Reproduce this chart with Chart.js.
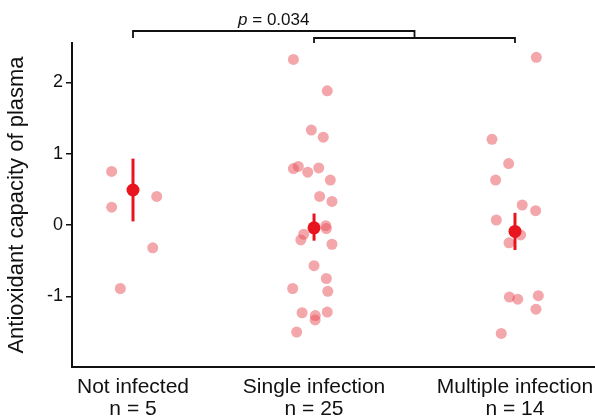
<!DOCTYPE html>
<html>
<head>
<meta charset="utf-8">
<script src="https://cdn.jsdelivr.net/npm/chart.js@4/dist/chart.umd.min.js"></script>
<style>
body { margin: 0; background: #fff; }
</style>
</head>
<body>
<canvas id="myChart" width="595" height="418"></canvas>
<script>
var groups = ["Not infected", "Single infection", "Multiple infection"];
var groupN = ["n = 5", "n = 25", "n = 14"];
var groupPos = [1, 2, 3.11];
var yTicks = [-1, 0, 1, 2];

// individual birds, value + horizontal jitter (x units)
var notInfVal = [0.75, 0.25, 0.40, -0.32, -0.89];
var notInfJit = [-0.118, -0.118, 0.131, 0.109, -0.070];

var singleVal = [2.32, 1.88, 1.33, 1.23, 0.79, 0.82, 0.74, 0.80, 0.63, 0.40, 0.33, -0.01, -0.05,
                 -0.13, -0.21, -0.27, -0.57, -0.75, -0.93, -0.89, -1.23, -1.27, -1.33, -1.22, -1.50];
var singleJit = [-0.114, 0.073, -0.015, 0.051, -0.114, -0.087, -0.035, 0.026, 0.090, 0.031, 0.099, 0.065, 0.068,
                 -0.057, -0.073, 0.099, 0, 0.068, 0.076, -0.118, -0.066, 0.007, 0.006, 0.073, -0.096];

var multiVal = [2.35, 1.20, 0.86, 0.63, 0.28, 0.20, 0.07, -0.14, -0.25, -1.01, -1.04, -0.99, -1.18, -1.52];
var multiJit = [0.118, -0.127, -0.035, -0.107, 0.040, 0.114, -0.103, 0.031, -0.033, -0.031, 0.015, 0.129, 0.116, -0.076];

var means = [0.49, -0.04, -0.09];
var errLow = [0.05, -0.22, -0.35];
var errHigh = [0.93, 0.16, 0.17];

var pLabel = "p";
var pValue = " = 0.034";

var fontFam = "'Liberation Sans', Arial, Helvetica, sans-serif";

function pts(vals, jit, g) {
    var out = [];
    for (var i = 0; i < vals.length; i++) {
        out.push({x: groupPos[g] + jit[i], y: vals[i]});
    }
    return out;
}

var dotColor = "rgba(234, 80, 88, 0.5)";
var red = "#e8141e";

var datasets = [];
var allPts = pts(notInfVal, notInfJit, 0).concat(pts(singleVal, singleJit, 1), pts(multiVal, multiJit, 2));
datasets.push({
    type: "scatter",
    data: allPts,
    backgroundColor: dotColor,
    borderWidth: 0,
    pointRadius: 5.5,
    order: 3
});
for (var g = 0; g < 3; g++) {
    datasets.push({
        type: "line",
        data: [{x: groupPos[g], y: errLow[g]}, {x: groupPos[g], y: errHigh[g]}],
        borderColor: red,
        borderWidth: 3,
        pointRadius: 0,
        fill: false,
        order: 2
    });
}
datasets.push({
    type: "scatter",
    data: groupPos.map(function (p, i) { return {x: p, y: means[i]}; }),
    backgroundColor: red,
    borderWidth: 0,
    pointRadius: 6.5,
    order: 1
});

var bracketPlugin = {
    id: "brackets",
    afterDraw: function (chart) {
        var ctx = chart.ctx;
        var xs = chart.scales.x;
        var top = chart.chartArea.top;
        var x0 = xs.getPixelForValue(groupPos[0]);
        var x1 = xs.getPixelForValue(groupPos[1]);
        var x2 = xs.getPixelForValue(groupPos[2]);
        var mid = (x1 + x2) / 2;
        ctx.save();
        ctx.strokeStyle = "#111";
        ctx.lineWidth = 1.8;
        ctx.beginPath();
        ctx.moveTo(x0, top - 5);
        ctx.lineTo(x0, top - 12);
        ctx.lineTo(mid, top - 12);
        ctx.lineTo(mid, top - 5);
        ctx.moveTo(x1, top);
        ctx.lineTo(x1, top - 5);
        ctx.lineTo(x2, top - 5);
        ctx.lineTo(x2, top);
        ctx.stroke();

        var cx = (x0 + mid) / 2;
        ctx.fillStyle = "#111";
        ctx.textBaseline = "alphabetic";
        ctx.font = "italic 17px " + fontFam;
        var w1 = ctx.measureText(pLabel).width;
        ctx.font = "17px " + fontFam;
        var w2 = ctx.measureText(pValue).width;
        var sx = cx - (w1 + w2) / 2;
        ctx.font = "italic 17px " + fontFam;
        ctx.fillText(pLabel, sx, top - 18);
        ctx.font = "17px " + fontFam;
        ctx.fillText(pValue, sx + w1, top - 18);
        ctx.restore();
    }
};

new Chart("myChart", {
    data: {datasets: datasets},
    options: {
        responsive: false,
        animation: false,
        layout: {autoPadding: false, padding: {top: 43, right: 0, left: 0, bottom: 0}},
        plugins: {legend: {display: false}, tooltip: {enabled: false}},
        scales: {
            x: {
                type: "linear",
                min: 0.663,
                max: 3.552,
                grid: {display: false},
                border: {display: true, color: "#111", width: 2},
                afterBuildTicks: function (scale) {
                    scale.ticks = groupPos.map(function (p) { return {value: p}; });
                },
                afterFit: function (scale) {
                    scale.height = 51;
                    scale.paddingLeft = 0;
                    scale.paddingRight = 0;
                },
                ticks: {
                    autoSkip: false,
                    maxRotation: 0,
                    padding: 1,
                    color: "#111",
                    font: {family: fontFam, size: 21, lineHeight: 1.05},
                    callback: function (v) {
                        var i = groupPos.indexOf(v);
                        return i < 0 ? "" : [groups[i], groupN[i]];
                    }
                }
            },
            y: {
                type: "linear",
                min: -1.99,
                max: 2.55,
                grid: {display: true, drawOnChartArea: false, drawTicks: true, tickLength: 6, color: "#111", lineWidth: 1.5},
                border: {display: true, color: "#111", width: 2},
                afterBuildTicks: function (scale) {
                    scale.ticks = yTicks.map(function (v) { return {value: v}; });
                },
                afterFit: function (scale) {
                    scale.width = 72;
                    scale.paddingTop = 0;
                    scale.paddingBottom = 0;
                },
                ticks: {
                    padding: 3,
                    color: "#111",
                    font: {family: fontFam, size: 18}
                },
                title: {
                    display: true,
                    text: "Antioxidant capacity of plasma",
                    color: "#111",
                    font: {family: fontFam, size: 22},
                    padding: {top: 4, bottom: 0}
                }
            }
        }
    },
    plugins: [bracketPlugin]
});
</script>
</body>
</html>
